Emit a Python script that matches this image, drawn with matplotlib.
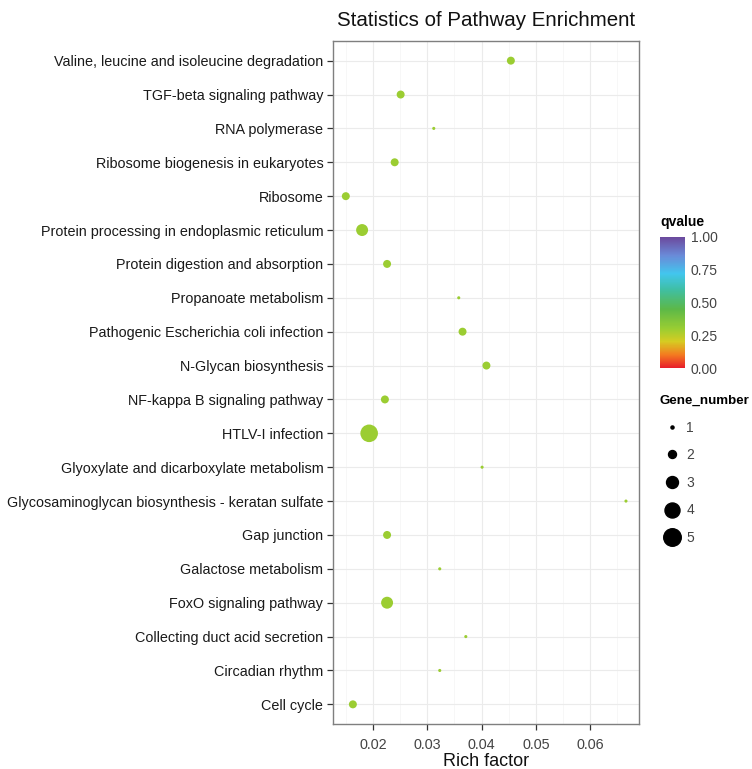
import numpy as np
import matplotlib.pyplot as plt
from matplotlib.colors import LinearSegmentedColormap, Normalize
from matplotlib.lines import Line2D

plt.rcParams['font.family'] = ['Liberation Sans', 'DejaVu Sans']

pathways = ['Valine, leucine and isoleucine degradation', 'TGF-beta signaling pathway',
            'RNA polymerase', 'Ribosome biogenesis in eukaryotes', 'Ribosome',
            'Protein processing in endoplasmic reticulum', 'Protein digestion and absorption',
            'Propanoate metabolism', 'Pathogenic Escherichia coli infection',
            'N-Glycan biosynthesis', 'NF-kappa B signaling pathway', 'HTLV-I infection',
            'Glyoxylate and dicarboxylate metabolism',
            'Glycosaminoglycan biosynthesis - keratan sulfate', 'Gap junction',
            'Galactose metabolism', 'FoxO signaling pathway', 'Collecting duct acid secretion',
            'Circadian rhythm', 'Cell cycle']
rich_factor = [0.0454, 0.0251, 0.0312, 0.0240, 0.0150, 0.0180, 0.0226, 0.0358, 0.0365,
               0.0409, 0.0222, 0.0193, 0.0401, 0.0666, 0.0226, 0.0323, 0.0226, 0.0371,
               0.0323, 0.0163]
gene_number = [2, 2, 1, 2, 2, 3, 2, 1, 2, 2, 2, 5, 1, 1, 2, 1, 3, 1, 1, 2]
qvalue = [0.30] * 20

size_levels = [1, 2, 3, 4, 5]
size_pts = [5, 33, 74, 117, 160]

cmap = LinearSegmentedColormap.from_list('q', [
    (0.0, '#e8202a'), (0.1, '#f47a20'), (0.2, '#d6cc22'), (0.3, '#9acd32'),
    (0.45, '#5cb848'), (0.6, '#3fbfa4'), (0.72, '#42c6ee'), (0.86, '#6a8ad8'),
    (1.0, '#6b4a9e')])
norm = Normalize(0, 1)

fig = plt.figure(figsize=(7.52, 7.69), dpi=100)
ax = fig.add_axes([333 / 752, 1 - 724 / 769, 306 / 752, 683 / 769])

y = np.arange(len(pathways))[::-1]
s = [size_pts[size_levels.index(g)] for g in gene_number]
ax.scatter(rich_factor, y, s=s, c=qvalue, cmap=cmap, norm=norm, linewidths=0, zorder=3)

ax.set_xlim(0.01264, 0.0690)
ax.set_ylim(-0.58, len(pathways) - 0.42)
ax.set_yticks(y)
ax.set_yticklabels(pathways, fontsize=10.4, color='#1a1a1a')
ax.set_xticks([0.02, 0.03, 0.04, 0.05, 0.06])
ax.set_xticklabels(['0.02', '0.03', '0.04', '0.05', '0.06'], fontsize=10.4, color='#444444')
ax.set_xticks(np.arange(0.015, 0.0691, 0.01), minor=True)
ax.tick_params(axis='both', which='major', length=4, width=0.9, color='#333333', pad=3)
ax.tick_params(axis='x', which='major', pad=6)
ax.tick_params(axis='x', which='minor', length=0)
ax.grid(True, which='major', color='#ebebeb', linewidth=0.8, zorder=0)
ax.grid(True, which='minor', axis='x', color='#f4f4f4', linewidth=0.5, zorder=0)
ax.set_axisbelow(True)
for sp in ax.spines.values():
    sp.set_color('#7f7f7f')
    sp.set_linewidth(1.0)
ax.set_xlabel('Rich factor', fontsize=13, labelpad=1, color='#111111')
ax.set_title('Statistics of Pathway Enrichment', fontsize=14.8, pad=11, color='#111111')

# colour bar
cax = fig.add_axes([660 / 752, 1 - 368 / 769, 25 / 752, 131 / 769])
cb = fig.colorbar(plt.cm.ScalarMappable(norm=norm, cmap=cmap), cax=cax)
cb.set_ticks([0, 0.25, 0.5, 0.75, 1.0])
cb.set_ticklabels(['0.00', '0.25', '0.50', '0.75', '1.00'])
cb.outline.set_visible(False)
cax.tick_params(length=0, labelsize=10, colors='#444444', pad=4)
cax.text(0.0, 1.06, 'qvalue', transform=cax.transAxes, fontsize=10, fontweight='bold',
         ha='left', va='bottom')

# size legend
handles = [Line2D([], [], linestyle='none', marker='o', color='black',
                  markersize=np.sqrt(v), label=str(l)) for l, v in zip(size_levels, size_pts)]
leg = fig.legend(handles=handles, title='Gene_number', loc='upper left',
                 bbox_to_anchor=(660 / 752, 1 - 395 / 769), frameon=False, fontsize=10,
                 labelspacing=0.98, handletextpad=0.2, borderaxespad=0, borderpad=0,
                 handlelength=1.7, alignment='left')
leg.get_title().set_fontweight('bold')
leg.get_title().set_fontsize(9.6)
for t in leg.get_texts():
    t.set_color('#444444')

fig.savefig('out.png', dpi=100)
